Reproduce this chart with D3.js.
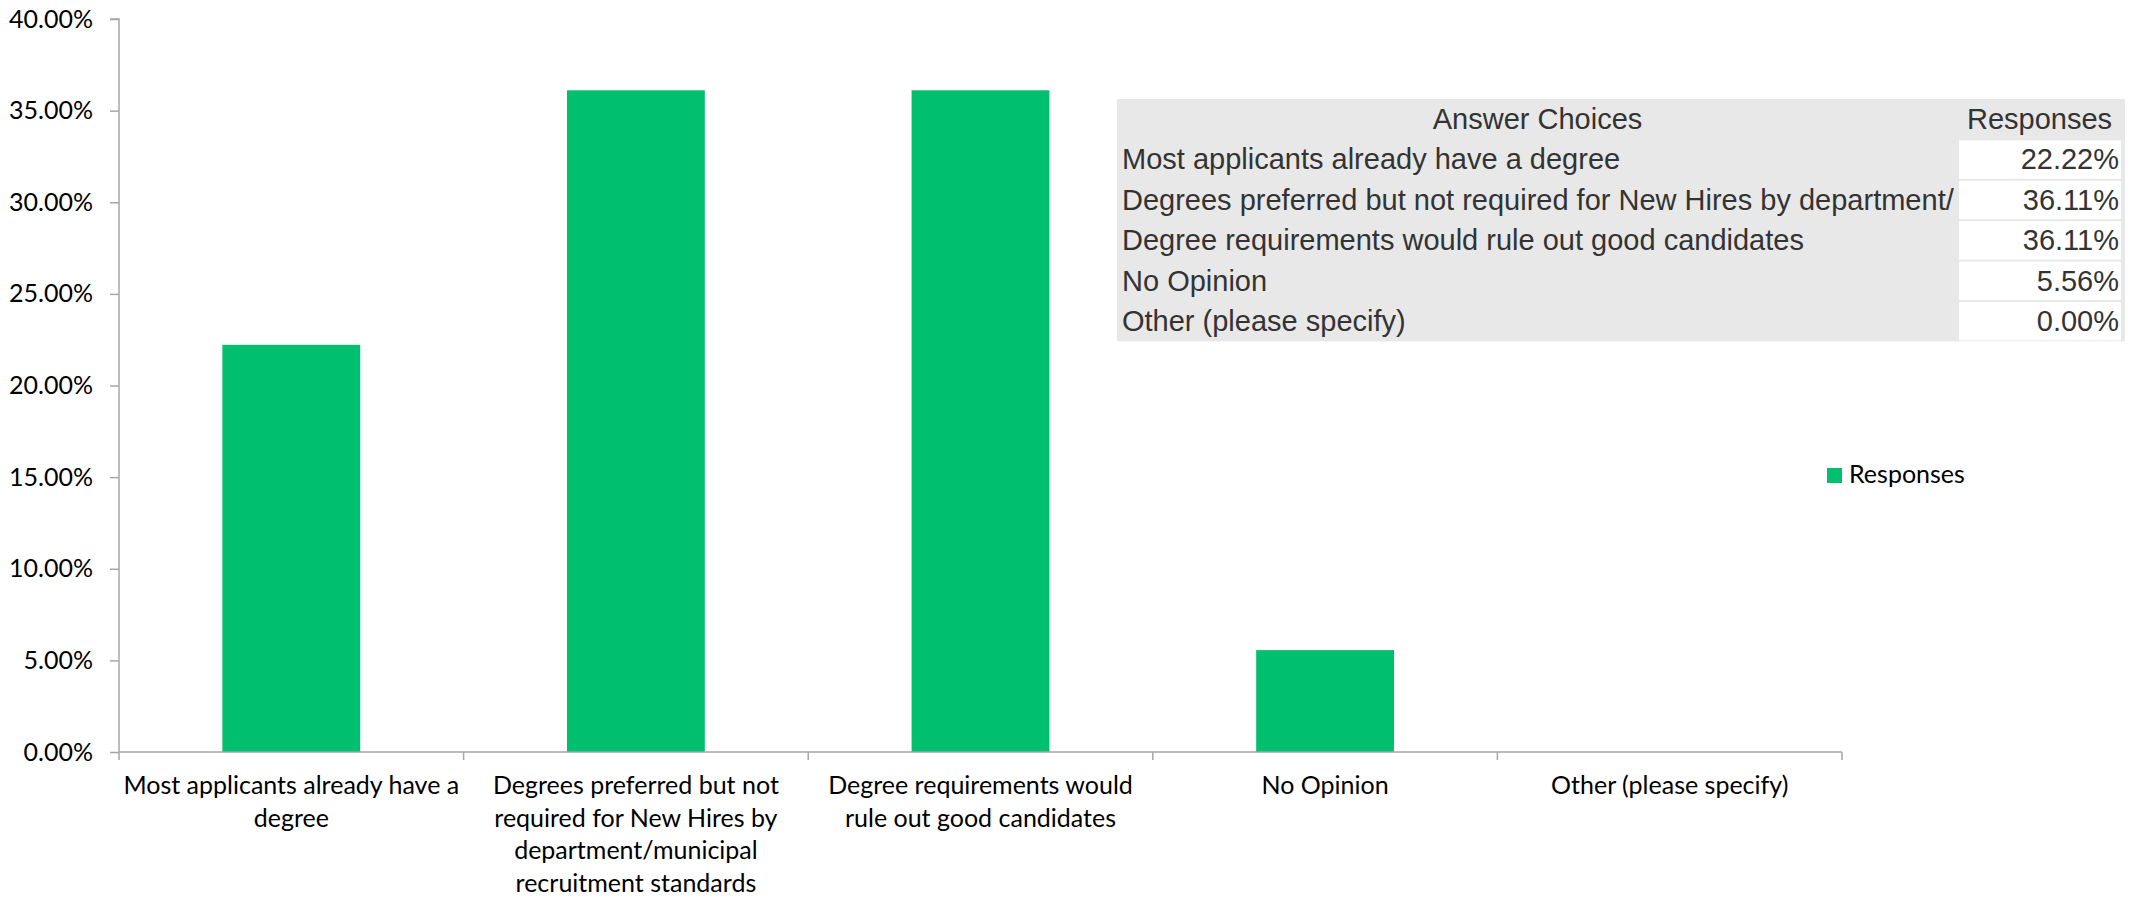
<!DOCTYPE html>
<html>
<head>
<meta charset="utf-8">
<script src="https://cdn.jsdelivr.net/npm/d3@7"></script>
<style>
  html, body { margin: 0; padding: 0; background: #fff; }
  svg { display: block; }
</style>
</head>
<body>
<svg id="chart" width="2131" height="898"></svg>
<script>
// Survey answers and their share of responses
const categories = [
  "Most applicants already have a degree",
  "Degrees preferred but not required for New Hires by department/municipal recruitment standards",
  "Degree requirements would rule out good candidates",
  "No Opinion",
  "Other (please specify)"
];
const responses = [22.22, 36.11, 36.11, 5.56, 0.00];

// Value axis ticks (percent)
const yTicks = [0, 5, 10, 15, 20, 25, 30, 35, 40];

// Wrapped category labels under the axis
const xLabelLines = [
  ["Most applicants already have a", "degree"],
  ["Degrees preferred but not", "required for New Hires by", "department/municipal", "recruitment standards"],
  ["Degree requirements would", "rule out good candidates"],
  ["No Opinion"],
  ["Other (please specify)"]
];

const tableHeaders = ["Answer Choices", "Responses"];
const seriesName = "Responses";

const GREEN = "#00BF6F";
const AXIS = "#a6a6a6";
const chartFont = "Lato, 'Open Sans', sans-serif";
const tableFont = "'Liberation Sans', Arial, sans-serif";
const TABLE_SIZE = 29;

const svg = d3.select("#chart");

const plot = { left: 119, right: 1842, top: 19, bottom: 752 };

// Category slots and bars inside them (bar = 40% of slot, centred)
const xSlot = d3.scaleBand().domain(categories).range([plot.left, plot.right]).padding(0);
const xBar = d3.scaleBand().domain(categories).range([plot.left, plot.right])
  .paddingInner(0.6).paddingOuter(0.3);
const y = d3.scaleLinear().domain([0, 40]).range([plot.bottom, plot.top]);

// Bars
svg.append("g").selectAll("rect")
  .data(categories.map((c, i) => ({ c, v: responses[i] })))
  .join("rect")
  .attr("x", d => xBar(d.c))
  .attr("width", xBar.bandwidth())
  .attr("y", d => y(d.v))
  .attr("height", d => y(0) - y(d.v))
  .attr("fill", GREEN);

// Y axis
const yAxis = d3.axisLeft(y)
  .tickValues(yTicks)
  .tickFormat(d => d3.format(".2f")(d) + "%")
  .tickSize(9)
  .tickPadding(17);
const gy = svg.append("g").attr("transform", `translate(${plot.left},0)`).call(yAxis);
gy.select(".domain").attr("stroke", AXIS).attr("stroke-width", 1.5)
  .attr("d", `M-9,${y(40)}H0V${y(0)}`);
gy.selectAll(".tick line").attr("stroke", AXIS).attr("stroke-width", 1.5);
gy.selectAll(".tick text")
  .attr("font-family", chartFont).attr("font-size", 25).attr("fill", "#000");

// X axis line with tick marks at slot boundaries
const gx = svg.append("g");
gx.append("line")
  .attr("x1", plot.left).attr("x2", plot.right)
  .attr("y1", y(0)).attr("y2", y(0))
  .attr("stroke", AXIS).attr("stroke-width", 1.5);
const bounds = categories.map(c => xSlot(c)).concat([xSlot(categories[categories.length - 1]) + xSlot.bandwidth()]);
gx.selectAll("line.tk").data(bounds).join("line")
  .attr("class", "tk")
  .attr("x1", d => d).attr("x2", d => d)
  .attr("y1", y(0)).attr("y2", y(0) + 8)
  .attr("stroke", AXIS).attr("stroke-width", 1.5);

// Category labels
categories.forEach((c, i) => {
  const cx = xSlot(c) + xSlot.bandwidth() / 2;
  const t = gx.append("text")
    .attr("x", cx)
    .attr("y", y(0) + 42)
    .attr("text-anchor", "middle")
    .attr("font-family", chartFont).attr("font-size", 25).attr("fill", "#000");
  xLabelLines[i].forEach((line, j) => {
    t.append("tspan")
      .attr("x", cx)
      .attr("dy", j === 0 ? 0 : 32.5)
      .text(line);
  });
});

// Legend
const lg = svg.append("g").attr("transform", "translate(1827,468)");
lg.append("rect").attr("width", 15).attr("height", 15).attr("fill", GREEN);
lg.append("text").attr("x", 22).attr("y", 15)
  .attr("font-family", chartFont).attr("font-size", 25).attr("fill", "#000")
  .text(seriesName);

// Answer / response table
const tbl = { left: 1117, top: 99, col1: 841, col2: 167, rowH: 40.4 };
const tg = svg.append("g").attr("transform", `translate(${tbl.left},${tbl.top})`);
const nRows = categories.length + 1;
tg.append("rect")
  .attr("width", tbl.col1 + tbl.col2)
  .attr("height", tbl.rowH * nRows)
  .attr("fill", "#e8e8e8");

tg.append("text")
  .attr("x", tbl.col1 / 2).attr("y", 30)
  .attr("text-anchor", "middle")
  .attr("font-family", tableFont).attr("font-size", TABLE_SIZE).attr("fill", "#333")
  .text(tableHeaders[0]);
tg.append("text")
  .attr("x", tbl.col1 + (tbl.col2 - 4) / 2).attr("y", 30)
  .attr("text-anchor", "middle")
  .attr("font-family", tableFont).attr("font-size", TABLE_SIZE).attr("fill", "#333")
  .text(tableHeaders[1]);

categories.forEach((c, i) => {
  const top = tbl.rowH * (i + 1);
  tg.append("rect")
    .attr("x", tbl.col1 + 1).attr("y", top + 1)
    .attr("width", tbl.col2 - 5).attr("height", tbl.rowH - 2)
    .attr("fill", "#fff");
  const label = tg.append("text")
    .attr("x", 5).attr("y", top + 30)
    .attr("font-family", tableFont).attr("font-size", TABLE_SIZE).attr("fill", "#333")
    .text(c);
  // cell text that runs past the column is cut at the column edge
  let s = c;
  while (label.node().getComputedTextLength() > tbl.col1 - 4 && s.length > 1) {
    s = s.slice(0, -1);
    label.text(s);
  }
  tg.append("text")
    .attr("x", tbl.col1 + tbl.col2 - 6).attr("y", top + 30)
    .attr("text-anchor", "end")
    .attr("font-family", tableFont).attr("font-size", TABLE_SIZE).attr("fill", "#333")
    .text(d3.format(".2f")(responses[i]) + "%");
});
</script>
</body>
</html>
